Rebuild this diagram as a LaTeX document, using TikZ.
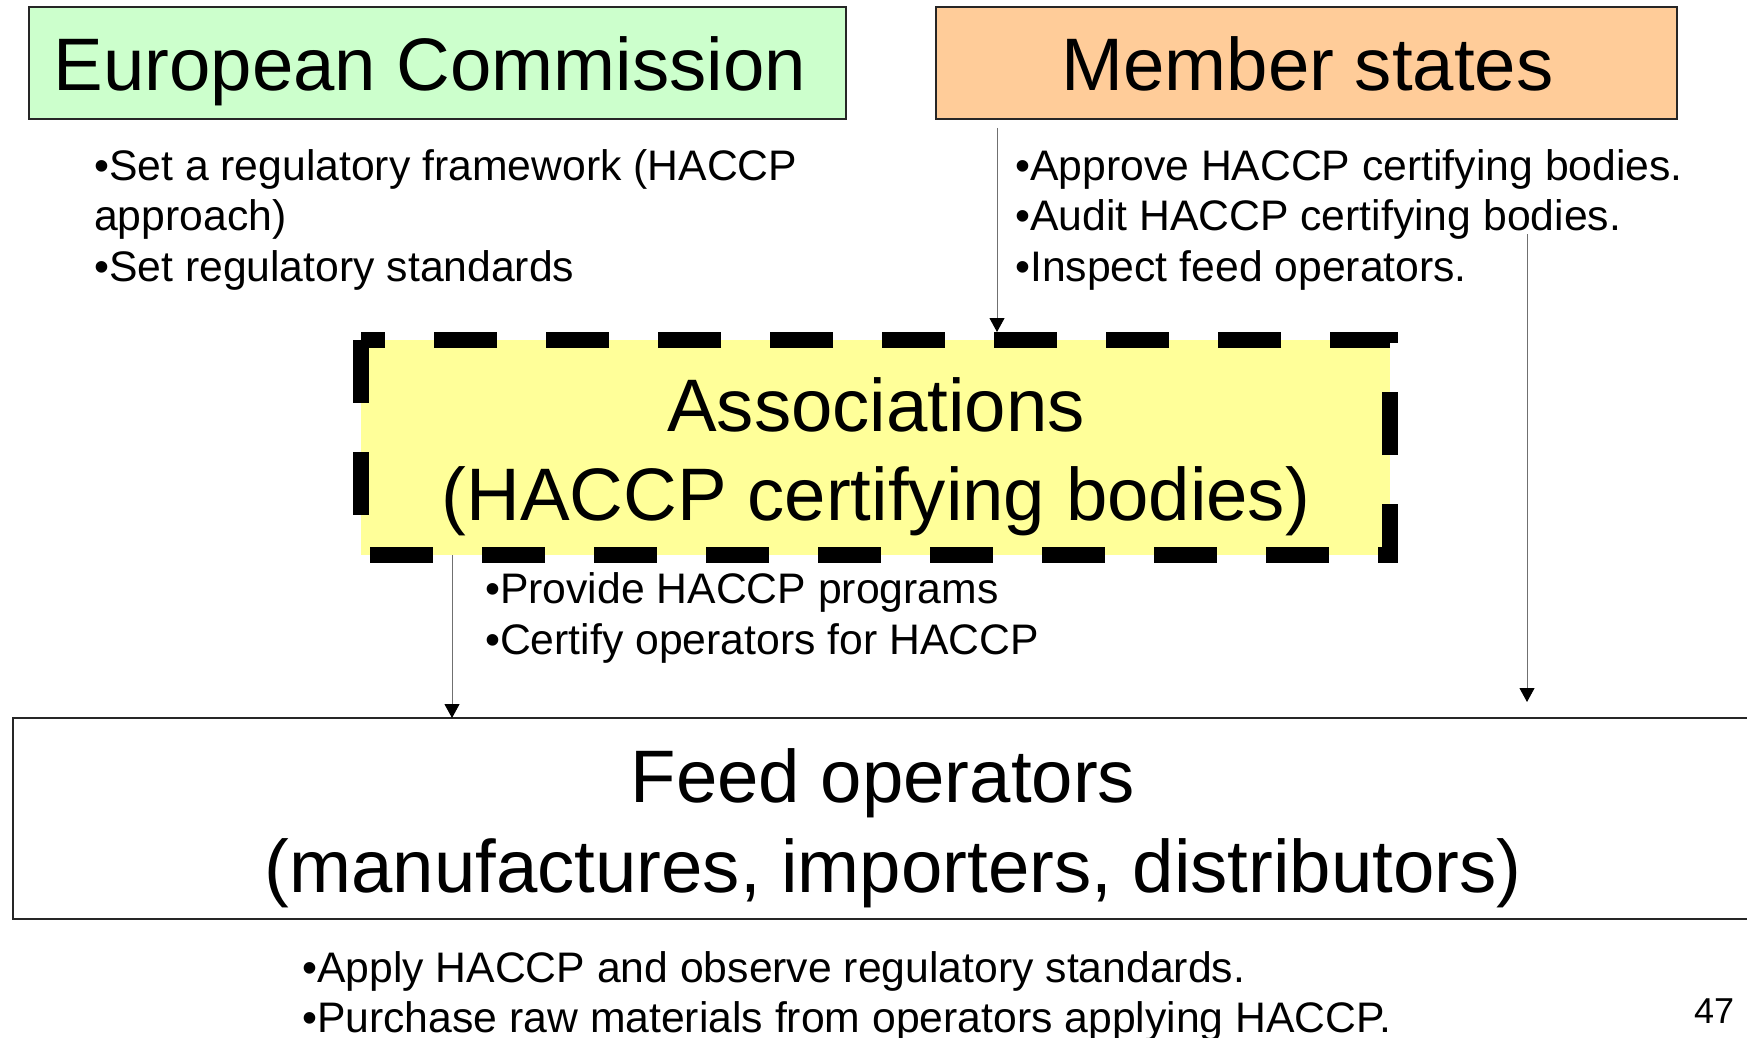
\documentclass[tikz,border=0pt]{standalone}
\usepackage{fontspec}
\setmainfont{Liberation Sans}
\usetikzlibrary{arrows.meta}
\definecolor{ecgreen}{HTML}{CCFFCC}
\definecolor{msorange}{HTML}{FFCC99}
\definecolor{assocyellow}{HTML}{FFFF99}
\definecolor{linegray}{HTML}{707070}
\begin{document}
\begin{tikzpicture}[x=1pt,y=-1pt,
  box/.style={draw=black!85, line width=1.5pt, inner sep=0pt, outer sep=0pt, rectangle},
  titletext/.style={font=\fontsize{74.4}{89}\selectfont, inner sep=0pt, anchor=base},
  bullettext/.style={font=\fontsize{42.7}{50.5}\selectfont, inner sep=0pt, anchor=base west},
  link/.style={draw=linegray, line width=1pt, -{Triangle[width=15pt,length=14pt,color=black]}},
  dashborder/.style={draw=black, line width=16pt, dash pattern=on 63pt off 49pt}
]
\useasboundingbox (0,0) rectangle (1747,1038);
\fill[white] (0,0) rectangle (1747,1038);

% boxes
\node[box, fill=ecgreen, minimum width=817pt, minimum height=112pt] (ec) at (437.5,63) {};
\node[box, fill=msorange, minimum width=741pt, minimum height=112pt] (ms) at (1306.5,63) {};
\node[box, fill=white, line width=2pt, minimum width=1757pt, minimum height=201pt] (feed) at (891.5,818.5) {};
\node[fill=assocyellow, inner sep=0pt, outer sep=0pt, minimum width=1029pt, minimum height=215pt] (assoc) at (875.5,447.5) {};
\draw[dashborder] (assoc.north west) -- (assoc.south west) -- (assoc.south east) -- (assoc.north east) -- cycle;

% titles
\node[titletext] (ectitle) at (430,91) {European Commission};
\node[titletext] (mstitle) at (1307.5,91) {Member states};
\node[titletext] (astitle1) at (876,431) {Associations};
\node[titletext] (astitle2) at (876,520) {(HACCP certifying bodies)};
\node[titletext] (fdtitle1) at (883,802) {Feed operators};
\node[titletext] (fdtitle2) at (893,892) {(manufactures, importers, distributors)};

% bullets
\node[bullettext] (ecb1) at (94,180) {•Set a regulatory framework (HACCP};
\node[bullettext] (ecb2) at (94,230) {approach)};
\node[bullettext] (ecb3) at (94,281) {•Set regulatory standards};
\node[bullettext] (msb1) at (1015,180) {•Approve HACCP certifying bodies.};
\node[bullettext] (msb2) at (1015,230) {•Audit HACCP certifying bodies.};
\node[bullettext] (msb3) at (1015,281) {•Inspect feed operators.};
\node[bullettext] (asb1) at (485,603) {•Provide HACCP programs};
\node[bullettext] (asb2) at (485,654) {•Certify operators for HACCP};
\node[bullettext] (fdb1) at (302,982) {•Apply HACCP and observe regulatory standards.};
\node[bullettext] (fdb2) at (302,1032) {•Purchase raw materials from operators applying HACCP.};
\node[font=\fontsize{36}{40}\selectfont, inner sep=0pt, anchor=base] (pagenum) at (1714,1023) {47};

% connectors
\coordinate (m1) at (997,128);
\coordinate (atop) at ([yshift=8pt]assoc.north);
\draw[link] (m1) -- (atop -| m1);
\coordinate (a2s) at (1527,234);
\coordinate (a2e) at (1527,702);
\draw[link] (a2s) -- (a2e);
\coordinate (a3x) at (452,0);
\draw[link] (assoc.south -| a3x) -- (feed.north -| a3x);
\end{tikzpicture}
\end{document}
